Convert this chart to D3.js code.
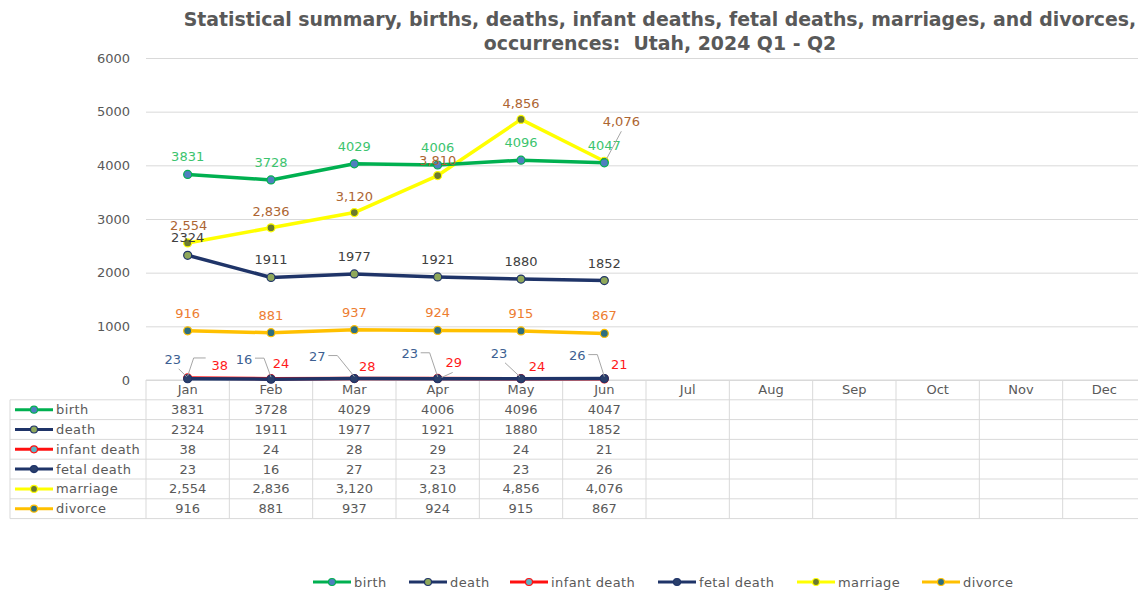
<!DOCTYPE html>
<html>
<head>
<meta charset="utf-8">
<script src="https://cdn.jsdelivr.net/npm/d3@7"></script>
<style>
  body { margin: 0; background: #fff; }
  svg text { font-family: "DejaVu Sans", sans-serif; }
</style>
</head>
<body>
<div id="chart"></div>
<script>
// chart data
const months = ['Jan', 'Feb', 'Mar', 'Apr', 'May', 'Jun', 'Jul', 'Aug', 'Sep', 'Oct', 'Nov', 'Dec'];
const birth = [3831, 3728, 4029, 4006, 4096, 4047];
const death = [2324, 1911, 1977, 1921, 1880, 1852];
const infantDeath = [38, 24, 28, 29, 24, 21];
const fetalDeath = [23, 16, 27, 23, 23, 26];
const marriage = [2554, 2836, 3120, 3810, 4856, 4076];
const divorce = [916, 881, 937, 924, 915, 867];
const yTicks = [0, 1000, 2000, 3000, 4000, 5000, 6000];

const width = 1138, height = 590;
const plotLeft = 146, plotRight = 1146, plotTop = 58, plotBottom = 380;
const rowH = 19.8;

const comma = d3.format(',');
const plain = d => String(d);

// series styling
const series = [
  {name: 'birth', values: birth, line: '#00b050', dot: '#4f7fbf', label: '#3cc46e', fmt: plain},
  {name: 'death', values: death, line: '#1f3468', dot: '#8fa85a', label: '#404040', fmt: plain},
  {name: 'infant death', values: infantDeath, line: '#ff1010', dot: '#5bb3c6', label: '#ff1a1a', fmt: plain},
  {name: 'fetal death', values: fetalDeath, line: '#1f3468', dot: '#2a3f6b', label: '#3d5f92', fmt: plain},
  {name: 'marriage', values: marriage, line: '#ffff00', dot: '#6b7a2f', label: '#ad6532', fmt: comma},
  {name: 'divorce', values: divorce, line: '#ffc000', dot: '#2f6f7f', label: '#ed7d31', fmt: plain}
];

const svg = d3.select('#chart').append('svg')
  .attr('width', width)
  .attr('height', height);

const x = d3.scaleBand()
  .domain(months)
  .range([plotLeft, plotRight]);

const y = d3.scaleLinear()
  .domain([0, 6000])
  .range([plotBottom, plotTop]);

const cx = m => x(m) + x.bandwidth() / 2;

// title
const titleLines = ['Statistical summary, births, deaths, infant deaths, fetal deaths, marriages, and divorces,',
  'occurrences:  Utah, 2024 Q1 - Q2'];
svg.selectAll('text.title')
  .data(titleLines)
  .enter().append('text')
  .attr('class', 'title')
  .attr('x', 660)
  .attr('y', (d, i) => 26 + i * 24)
  .attr('text-anchor', 'middle')
  .attr('fill', '#595959')
  .style('font-weight', 'bold')
  .style('font-size', '18.9px')
  .style('white-space', 'pre')
  .text(d => d);

// gridlines + y axis
const yAxis = d3.axisLeft(y).tickValues(yTicks).tickSize(-(plotRight - plotLeft)).tickFormat(d => d);
const ga = svg.append('g')
  .attr('transform', 'translate(' + plotLeft + ',0)')
  .call(yAxis);
ga.select('.domain').remove();
ga.selectAll('line').attr('stroke', '#d9d9d9');
ga.selectAll('text')
  .attr('x', -16)
  .attr('fill', '#595959')
  .style('font-size', '13px');

// data table
const table = svg.append('g');
const nRows = series.length;
// vertical borders
table.selectAll('line.v')
  .data(months.concat(['end']))
  .enter().append('line')
  .attr('class', 'v')
  .attr('x1', (d, i) => plotLeft + i * x.bandwidth())
  .attr('x2', (d, i) => plotLeft + i * x.bandwidth())
  .attr('y1', plotBottom)
  .attr('y2', plotBottom + rowH * (nRows + 1))
  .attr('stroke', '#d9d9d9');
table.append('line')
  .attr('x1', 10).attr('x2', 10)
  .attr('y1', plotBottom + rowH).attr('y2', plotBottom + rowH * (nRows + 1))
  .attr('stroke', '#d9d9d9');
// horizontal borders
table.selectAll('line.h')
  .data(d3.range(nRows + 1))
  .enter().append('line')
  .attr('class', 'h')
  .attr('x1', 10).attr('x2', plotRight)
  .attr('y1', i => plotBottom + rowH * (i + 1))
  .attr('y2', i => plotBottom + rowH * (i + 1))
  .attr('stroke', '#d9d9d9');
table.append('line')
  .attr('x1', plotLeft).attr('x2', plotRight)
  .attr('y1', plotBottom).attr('y2', plotBottom)
  .attr('stroke', '#d9d9d9');

// month header
table.selectAll('text.month')
  .data(months)
  .enter().append('text')
  .attr('class', 'month')
  .attr('x', d => cx(d))
  .attr('y', plotBottom + 14)
  .attr('text-anchor', 'middle')
  .attr('fill', '#595959')
  .style('font-size', '13px')
  .text(d => d);

// legend key drawing
function legendKey(g, s, x0, yy) {
  g.append('line')
    .attr('x1', x0).attr('x2', x0 + 38)
    .attr('y1', yy).attr('y2', yy)
    .attr('stroke', s.line).attr('stroke-width', 3);
  g.append('circle')
    .attr('cx', x0 + 19).attr('cy', yy).attr('r', 3.5)
    .attr('fill', s.dot).attr('stroke', s.line).attr('stroke-width', 1.2);
}

series.forEach((s, r) => {
  const yy = plotBottom + rowH * (r + 1) + rowH / 2;
  legendKey(table, s, 15, yy);
  table.append('text')
    .attr('x', 56).attr('y', yy + 4.5)
    .attr('fill', '#595959')
    .style('font-size', '13px')
    .style('letter-spacing', '0.4px')
    .text(s.name);
  table.selectAll(null)
    .data(s.values)
    .enter().append('text')
    .attr('x', (d, i) => cx(months[i]))
    .attr('y', yy + 4.5)
    .attr('text-anchor', 'middle')
    .attr('fill', '#595959')
    .style('font-size', '13px')
    .text(d => s.fmt(d));
});

// lines and markers
const line = d3.line()
  .x((d, i) => cx(months[i]))
  .y(d => y(d));

const drawOrder = [4, 5, 1, 0, 2, 3];
drawOrder.forEach(k => {
  const s = series[k];
  svg.append('path')
    .datum(s.values)
    .attr('d', line)
    .attr('fill', 'none')
    .attr('stroke', s.line)
    .attr('stroke-width', 3.5)
    .attr('stroke-linejoin', 'round');
  svg.selectAll(null)
    .data(s.values)
    .enter().append('circle')
    .attr('cx', (d, i) => cx(months[i]))
    .attr('cy', d => y(d))
    .attr('r', 4)
    .attr('fill', s.dot)
    .attr('stroke', s.line)
    .attr('stroke-width', 1.2);
});

// data labels: default above the point, the crowded ones moved like the original
const labelNudge = {
  'marriage': [[1, -17], [0, -16], [0, -16], [0, -15], [0, -16], [17, -40]],
  'fetal death': [[-15, -19], [-27, -20], [-37, -22], [-28, -25], [-22, -25], [-27, -23]],
  'infant death': [[32, -12], [10, -15], [13, -12], [16, -16], [16, -12], [15, -14]]
};
const labels = svg.append('g');
const pts = arr => arr.map(p => p.join(',')).join(' ');
series.forEach(s => {
  const nudge = labelNudge[s.name];
  s.values.forEach((v, i) => {
    const px = cx(months[i]), py = y(v);
    const dx = nudge ? nudge[i][0] : 0;
    const dy = nudge ? nudge[i][1] : -17.5;
    const lx = px + dx, ly = py + dy;
    // leader lines for the labels that were pulled away from their point
    if (s.name === 'fetal death') {
      const path = (i === 0 || i === 4)
        ? [[lx + 6, ly + 9], [px - 1, py - 2]]
        : [[lx + 11, ly - 1], [lx + 20, ly - 1], [px, py - 2]];
      labels.append('polyline')
        .attr('points', pts(path))
        .attr('fill', 'none').attr('stroke', '#a6a6a6');
    }
    if (s.name === 'marriage' && i === 5) {
      labels.append('line')
        .attr('x1', px + 2).attr('y1', py - 2)
        .attr('x2', px + 17).attr('y2', py - 30)
        .attr('stroke', '#a6a6a6');
    }
    if (s.name === 'infant death' && i === 0) {
      labels.append('polyline')
        .attr('points', pts([[lx - 14, ly - 8], [lx - 26, ly - 8], [px, py - 2]]))
        .attr('fill', 'none').attr('stroke', '#a6a6a6');
    }
    if (s.name === 'infant death' && i === 3) {
      labels.append('line')
        .attr('x1', lx - 1).attr('y1', ly + 10)
        .attr('x2', px + 4).attr('y2', py - 1)
        .attr('stroke', '#a6a6a6');
    }
    labels.append('text')
      .attr('x', lx)
      .attr('y', ly + 4.5)
      .attr('text-anchor', 'middle')
      .attr('fill', s.label)
      .style('font-size', '13px')
      .text(s.fmt(v));
  });
});

// bottom legend
const legendX = [313, 409, 510, 658, 797, 922];
const legend = svg.append('g');
series.forEach((s, i) => {
  legendKey(legend, s, legendX[i], 582);
  legend.append('text')
    .attr('x', legendX[i] + 41).attr('y', 586.5)
    .attr('fill', '#595959')
    .style('font-size', '13px')
    .style('letter-spacing', '0.4px')
    .text(s.name);
});
</script>
</body>
</html>
